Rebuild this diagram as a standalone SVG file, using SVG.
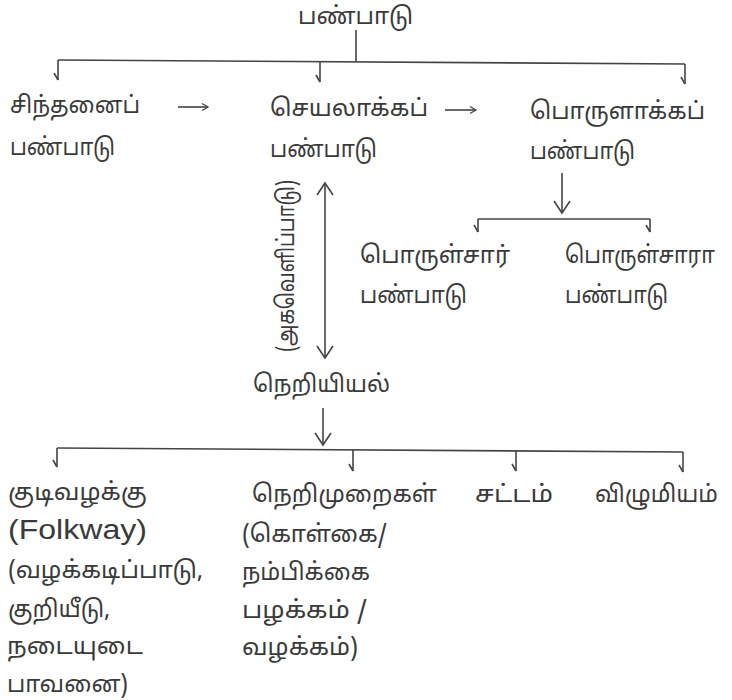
<svg xmlns="http://www.w3.org/2000/svg" width="732" height="700" viewBox="0 0 732 700">
<style>
.t{font-family:"Noto Sans Tamil","Lohit Tamil","Noto Sans",sans-serif;font-size:24px;fill:#3a3a3a}
.e{font-family:"Liberation Sans",Arial,sans-serif;font-size:27px;fill:#3a3a3a}
.c{fill:none;stroke:#444;stroke-width:1.6}
</style>
<defs>
<marker id="tick" markerUnits="userSpaceOnUse" orient="auto" markerWidth="20" markerHeight="20" overflow="visible"><path d="M0,0 L-7,4" fill="none" stroke="#444" stroke-width="1.6"/></marker>
<marker id="arr" markerUnits="userSpaceOnUse" orient="auto-start-reverse" markerWidth="20" markerHeight="20" overflow="visible"><path d="M-12,-8 L0,0 L-12,8" fill="none" stroke="#444" stroke-width="1.6"/></marker>
<marker id="sarr" markerUnits="userSpaceOnUse" orient="auto" markerWidth="20" markerHeight="20" overflow="visible"><path d="M-6,-3.5 L0,0 L-6,3.5" fill="none" stroke="#444" stroke-width="1.3"/></marker>
</defs>
<rect width="732" height="700" fill="#fff"/>
<g id="connectors">
<path class="c" d="M356,30 V61.5"/>
<path class="c" d="M58,60 L685,64"/>
<path class="c" d="M58,60 V80" marker-end="url(#tick)"/>
<path class="c" d="M320,61.5 V82" marker-end="url(#tick)"/>
<path class="c" d="M685,64 V84" marker-end="url(#tick)"/>
<path class="c" d="M178,107 H208" stroke-width="1.3" marker-end="url(#sarr)"/>
<path class="c" d="M445,110 H476" stroke-width="1.3" marker-end="url(#sarr)"/>
<path class="c" d="M562,173 V213" marker-end="url(#arr)"/>
<path class="c" d="M478,219 H650"/>
<path class="c" d="M478,219 V232" marker-end="url(#tick)"/>
<path class="c" d="M650,219 V232" marker-end="url(#tick)"/>
<path class="c" d="M325,183 V358" marker-start="url(#arr)" marker-end="url(#arr)"/>
<path class="c" d="M323,408 V445" marker-end="url(#arr)"/>
<path class="c" d="M57,448 L683,452"/>
<path class="c" d="M57,448 V467" marker-end="url(#tick)"/>
<path class="c" d="M353,450 V471" marker-end="url(#tick)"/>
<path class="c" d="M516,451 V471" marker-end="url(#tick)"/>
<path class="c" d="M683,452 V472" marker-end="url(#tick)"/>
<text class="t" transform="translate(294,266) rotate(-90)" text-anchor="middle" font-size="21" textLength="172" lengthAdjust="spacingAndGlyphs">(அகவெளிப்பாடு)</text>
</g>
<g id="n-root"><text class="t" x="298" y="24" textLength="115" lengthAdjust="spacingAndGlyphs">பண்பாடு</text></g>
<g id="n-sinthanai">
<text class="t" x="10" y="113" textLength="130" lengthAdjust="spacingAndGlyphs">சிந்தனைப்</text>
<text class="t" x="10" y="155" textLength="105" lengthAdjust="spacingAndGlyphs">பண்பாடு</text>
</g>
<g id="n-seyalakka">
<text class="t" x="270" y="116" textLength="158" lengthAdjust="spacingAndGlyphs">செயலாக்கப்</text>
<text class="t" x="270" y="157" textLength="107" lengthAdjust="spacingAndGlyphs">பண்பாடு</text>
</g>
<g id="n-porulakka">
<text class="t" x="530" y="119" textLength="175" lengthAdjust="spacingAndGlyphs">பொருளாக்கப்</text>
<text class="t" x="530" y="159" textLength="105" lengthAdjust="spacingAndGlyphs">பண்பாடு</text>
</g>
<g id="n-porulsar">
<text class="t" x="360" y="263" textLength="150" lengthAdjust="spacingAndGlyphs">பொருள்சார்</text>
<text class="t" x="360" y="303" textLength="107" lengthAdjust="spacingAndGlyphs">பண்பாடு</text>
</g>
<g id="n-porulsara">
<text class="t" x="565" y="263" textLength="150" lengthAdjust="spacingAndGlyphs">பொருள்சாரா</text>
<text class="t" x="565" y="303" textLength="103" lengthAdjust="spacingAndGlyphs">பண்பாடு</text>
</g>
<g id="n-neriyiyal"><text class="t" x="253" y="392" textLength="137" lengthAdjust="spacingAndGlyphs">நெறியியல்</text></g>
<g id="n-kudivazhakku">
<text class="t" x="8" y="500" textLength="139" lengthAdjust="spacingAndGlyphs">குடிவழக்கு</text>
<text class="e" x="8" y="539" textLength="139" lengthAdjust="spacingAndGlyphs">(Folkway)</text>
<text class="t" x="8" y="578" textLength="195" lengthAdjust="spacingAndGlyphs">(வழக்கடிப்பாடு,</text>
<text class="t" x="8" y="617" textLength="102" lengthAdjust="spacingAndGlyphs">குறியீடு,</text>
<text class="t" x="7" y="654" textLength="136" lengthAdjust="spacingAndGlyphs">நடையுடை</text>
<text class="t" x="7" y="692" textLength="121" lengthAdjust="spacingAndGlyphs">பாவனை)</text>
</g>
<g id="n-nerimuraigal">
<text class="t" x="252" y="502" textLength="185" lengthAdjust="spacingAndGlyphs">நெறிமுறைகள்</text>
<text class="t" x="242" y="542" textLength="145" lengthAdjust="spacingAndGlyphs">(கொள்கை/</text>
<text class="t" x="242" y="580" textLength="128" lengthAdjust="spacingAndGlyphs">நம்பிக்கை</text>
<text class="t" x="242" y="618" textLength="125" lengthAdjust="spacingAndGlyphs">பழக்கம் /</text>
<text class="t" x="242" y="655" textLength="116" lengthAdjust="spacingAndGlyphs">வழக்கம்)</text>
</g>
<g id="n-sattam"><text class="t" x="475" y="502" textLength="78" lengthAdjust="spacingAndGlyphs">சட்டம்</text></g>
<g id="n-vizhumiyam"><text class="t" x="595" y="502" textLength="123" lengthAdjust="spacingAndGlyphs">விழுமியம்</text></g>
</svg>
